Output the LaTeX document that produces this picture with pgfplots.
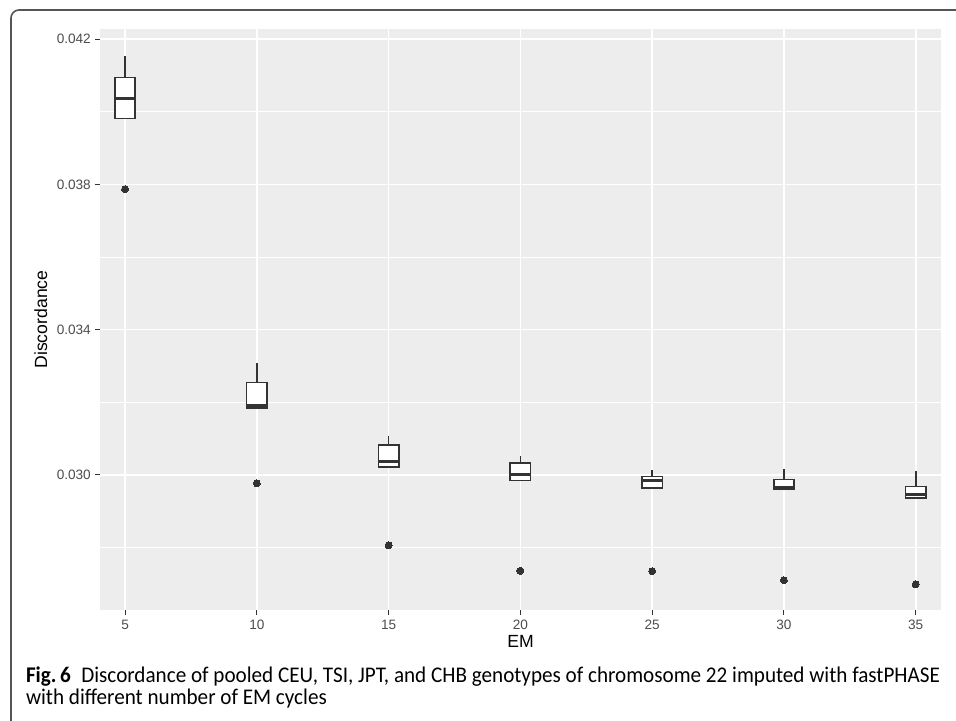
\documentclass[border=0pt]{standalone}
\usepackage{pgfplots}
\pgfplotsset{compat=1.18}
\usepgfplotslibrary{statistics}
\usepackage{fontspec}
\setmainfont{Liberation Sans}
\newfontfamily\capfont{Carlito}
\usepackage{graphicx}
\definecolor{panelbg}{RGB}{237,237,237}
\definecolor{boxc}{RGB}{51,51,51}
\definecolor{tickc}{RGB}{77,77,77}
\definecolor{framec}{RGB}{85,85,85}
\definecolor{capc}{RGB}{30,30,30}
\newsavebox\capA
\newsavebox\capB
\begin{document}
\sbox\capA{\capfont\fontsize{11.2}{12}\selectfont\textbf{Fig.\,6}\enspace Discordance of pooled CEU, TSI, JPT, and CHB genotypes of chromosome 22 imputed with fastPHASE}%
\sbox\capB{\capfont\fontsize{11.2}{12}\selectfont with different number of EM cycles}%
\pgfmathsetmacro\capscale{457/\the\wd\capA}%
\begin{tikzpicture}
\pgfplotsset{
  bp/.style={draw=boxc, fill=white, line width=0.8pt, mark=*, mark size=1.75pt,
    mark options={fill=boxc, draw=boxc, line width=0pt},
    boxplot/every median/.style={line width=1.5pt}},
}
\begin{axis}[
  at={(50pt,55pt)}, anchor=south west,
  scale only axis, width=420.5pt, height=290.5pt,
  xmin=4.05, xmax=35.96, ymin=0.02628, ymax=0.04228,
  axis background/.style={fill=panelbg},
  axis line style={draw=none},
  scaled y ticks=false, scaled x ticks=false,
  xtick={5,10,15,20,25,30,35},
  ytick={0.030,0.034,0.038,0.042},
  yticklabels={0.030,0.034,0.038,0.042},
  minor ytick={0.028,0.032,0.036,0.040},
  xmajorgrids, ymajorgrids, yminorgrids,
  major grid style={white, line width=0.8pt},
  minor grid style={white, line width=0.4pt},
  tick pos=left, tick align=outside,
  major tick length=2.4pt, minor tick length=0pt,
  tick style={boxc, line width=0.5pt},
  ticklabel style={font=\fontsize{6.8}{7.5}\selectfont, text=tickc},
  /pgf/number format/assume math mode=true,
  xticklabel style={anchor=north, inner sep=0pt, yshift=-2.5pt},
  yticklabel style={anchor=east, inner sep=0pt, xshift=-2pt},
  xlabel={EM}, ylabel={Discordance},
  label style={font=\fontsize{8.8}{10}\selectfont},
  xlabel style={at={(axis description cs:0.5,-0.0649)}, anchor=base, inner sep=0pt},
  ylabel style={at={(axis description cs:-0.0630,0.5)}, anchor=base, inner sep=0pt},
  boxplot/draw direction=y,
]
\addplot[bp, boxplot prepared={draw position=5, lower whisker=0.03982, lower quartile=0.03982, median=0.04037, upper quartile=0.04094, upper whisker=0.04154, box extend=0.77, whisker extend=0}] coordinates {(0,0.03787)};
\addplot[bp, boxplot prepared={draw position=10, lower whisker=0.03185, lower quartile=0.03185, median=0.03191, upper quartile=0.03255, upper whisker=0.03309, box extend=0.77, whisker extend=0}] coordinates {(0,0.02977)};
\addplot[bp, boxplot prepared={draw position=15, lower whisker=0.03022, lower quartile=0.03022, median=0.03037, upper quartile=0.03083, upper whisker=0.03107, box extend=0.77, whisker extend=0}] coordinates {(0,0.02806)};
\addplot[bp, boxplot prepared={draw position=20, lower whisker=0.02985, lower quartile=0.02985, median=0.03002, upper quartile=0.03033, upper whisker=0.03052, box extend=0.77, whisker extend=0}] coordinates {(0,0.02736)};
\addplot[bp, boxplot prepared={draw position=25, lower whisker=0.02964, lower quartile=0.02964, median=0.02986, upper quartile=0.02996, upper whisker=0.03014, box extend=0.77, whisker extend=0}] coordinates {(0,0.02735)};
\addplot[bp, boxplot prepared={draw position=30, lower whisker=0.02961, lower quartile=0.02961, median=0.02966, upper quartile=0.02987, upper whisker=0.03017, box extend=0.77, whisker extend=0}] coordinates {(0,0.02710)};
\addplot[bp, boxplot prepared={draw position=35, lower whisker=0.02937, lower quartile=0.02937, median=0.02947, upper quartile=0.02968, upper whisker=0.03012, box extend=0.77, whisker extend=0}] coordinates {(0,0.02699)};
\end{axis}
\draw[framec, line width=0.8pt, rounded corners=4pt] (5.5pt,-3pt) -- (5.5pt,355pt) -- (482pt,355pt);
\node[anchor=base west, inner sep=0pt, text=capc] at (12.8pt,19pt) {\scalebox{\capscale}[1]{\usebox\capA}};
\node[anchor=base west, inner sep=0pt, text=capc] at (12.8pt,7.8pt) {\scalebox{\capscale}[1]{\usebox\capB}};
\pgfresetboundingbox
\path[use as bounding box] (0,0) rectangle (478pt,360pt);
\end{tikzpicture}
\end{document}
